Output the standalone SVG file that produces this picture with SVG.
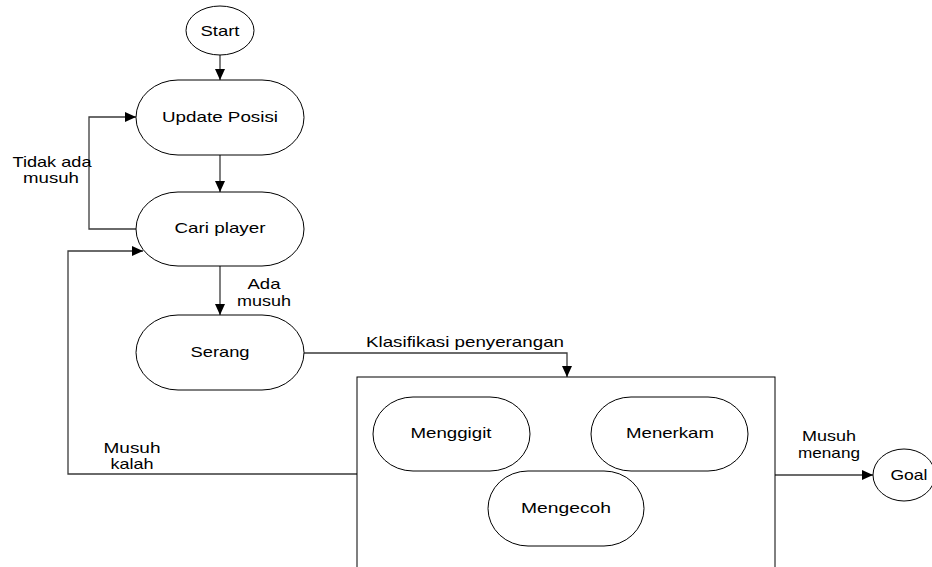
<svg xmlns="http://www.w3.org/2000/svg" width="932" height="567" viewBox="0 0 932 567">
<style>
.n{fill:#fff;stroke:#000;stroke-width:1}
.t{font-family:"Liberation Sans",Arial,sans-serif;font-size:15px;fill:#000;text-anchor:middle}
.c{fill:none;stroke:#3a3a3a;stroke-width:1.3}
</style>
<defs>
<marker id="a" markerUnits="userSpaceOnUse" markerWidth="12" markerHeight="12" viewBox="0 0 12 12" refX="11" refY="6" orient="auto">
<path d="M0,1 L11,6 L0,11 Z" fill="#000"/>
</marker>
</defs>
<rect width="932" height="567" fill="#fff"/>
<g id="connectors">
<path class="c" d="M220,55 V80" marker-end="url(#a)"/>
<path class="c" d="M220,155 V192" marker-end="url(#a)"/>
<path class="c" d="M220,266 V315" marker-end="url(#a)"/>
<path class="c" d="M136,229 H89 V117 H136" marker-end="url(#a)"/>
<path class="c" d="M304,353 H567 V377" marker-end="url(#a)"/>
<path class="c" d="M357,474 H68 V251 H143" marker-end="url(#a)"/>
<path class="c" d="M775,475 H873" marker-end="url(#a)"/>
</g>
<g id="labels">
<text class="t"><tspan x="52" y="167" textLength="79" lengthAdjust="spacingAndGlyphs">Tidak ada</tspan><tspan x="51" y="183" textLength="56" lengthAdjust="spacingAndGlyphs">musuh</tspan></text>
<text class="t"><tspan x="264" y="289" textLength="33" lengthAdjust="spacingAndGlyphs">Ada</tspan><tspan x="264" y="306" textLength="54" lengthAdjust="spacingAndGlyphs">musuh</tspan></text>
<text class="t" x="465" y="347" textLength="198" lengthAdjust="spacingAndGlyphs">Klasifikasi penyerangan</text>
<text class="t"><tspan x="132" y="453" textLength="57" lengthAdjust="spacingAndGlyphs">Musuh</tspan><tspan x="132" y="469" textLength="43" lengthAdjust="spacingAndGlyphs">kalah</tspan></text>
<text class="t"><tspan x="829" y="441" textLength="54" lengthAdjust="spacingAndGlyphs">Musuh</tspan><tspan x="829" y="458" textLength="62" lengthAdjust="spacingAndGlyphs">menang</tspan></text>
</g>
<g id="start">
<ellipse class="n" cx="220" cy="30.5" rx="34" ry="24.5"/>
<text class="t" x="220" y="36" textLength="39" lengthAdjust="spacingAndGlyphs">Start</text>
</g>
<g id="update-posisi">
<rect class="n" x="136" y="80" width="168" height="75" rx="42" ry="37.5"/>
<text class="t" x="220" y="122" textLength="116" lengthAdjust="spacingAndGlyphs">Update Posisi</text>
</g>
<g id="cari-player">
<rect class="n" x="136" y="192" width="168" height="74" rx="42" ry="37"/>
<text class="t" x="220" y="233" textLength="91" lengthAdjust="spacingAndGlyphs">Cari player</text>
</g>
<g id="serang">
<rect class="n" x="136" y="315" width="168" height="75" rx="42" ry="37.5"/>
<text class="t" x="220" y="357" textLength="59" lengthAdjust="spacingAndGlyphs">Serang</text>
</g>
<g id="klasifikasi">
<rect class="n" x="357" y="377" width="418" height="200"/>
</g>
<g id="menggigit">
<rect class="n" x="373" y="397" width="157" height="74" rx="40" ry="37"/>
<text class="t" x="451" y="438" textLength="81" lengthAdjust="spacingAndGlyphs">Menggigit</text>
</g>
<g id="menerkam">
<rect class="n" x="591" y="397" width="157" height="74" rx="40" ry="37"/>
<text class="t" x="670" y="438" textLength="88" lengthAdjust="spacingAndGlyphs">Menerkam</text>
</g>
<g id="mengecoh">
<rect class="n" x="488" y="471" width="156" height="75" rx="40" ry="37.5"/>
<text class="t" x="566" y="513" textLength="90" lengthAdjust="spacingAndGlyphs">Mengecoh</text>
</g>
<g id="goal">
<ellipse class="n" cx="904" cy="475" rx="31" ry="26"/>
<text class="t" x="909" y="480" textLength="37" lengthAdjust="spacingAndGlyphs">Goal</text>
</g>
</svg>
